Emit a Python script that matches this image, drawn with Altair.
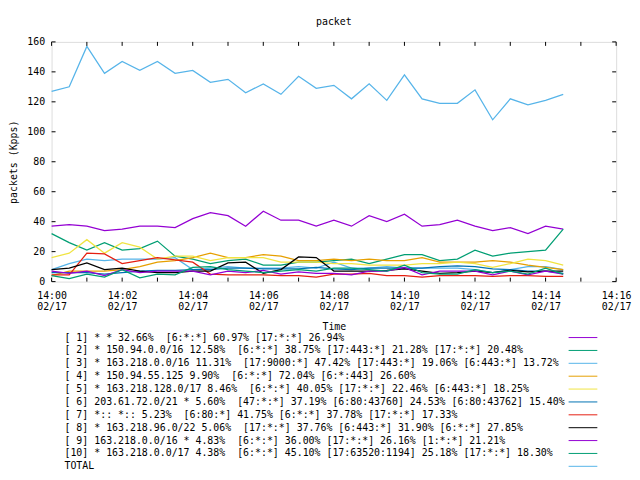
import altair as alt
import pandas as pd

times = ["14:00:00", "14:00:30", "14:01:00", "14:01:30", "14:02:00", "14:02:30",
         "14:03:00", "14:03:30", "14:04:00", "14:04:30", "14:05:00", "14:05:30",
         "14:06:00", "14:06:30", "14:07:00", "14:07:30", "14:08:00", "14:08:30",
         "14:09:00", "14:09:30", "14:10:00", "14:10:30", "14:11:00", "14:11:30",
         "14:12:00", "14:12:30", "14:13:00", "14:13:30", "14:14:00", "14:14:30"]

s1 = [37, 38, 37, 34, 35, 37, 37, 36, 42, 46, 44, 37, 47, 41, 41, 37, 41, 37, 44, 40, 45, 37, 38, 41, 37, 34, 36, 32, 37, 35]
s2 = [32, 26, 21, 26, 21, 22, 27, 17, 15, 12, 14, 15, 11, 11, 13, 13, 14, 15, 12, 15, 18, 18, 14, 15, 21, 17, 19, 20, 21, 35]
s3 = [8, 12, 15, 14, 15, 15, 15, 16, 8, 9, 10, 9, 9, 9, 10, 9, 13, 9, 9, 10, 9, 9, 9, 9, 8, 6, 8, 10, 10, 8]
s4 = [4, 7, 7, 7, 8, 10, 13, 14, 16, 19, 16, 16, 18, 17, 14, 14, 15, 14, 15, 14, 14, 16, 13, 13, 13, 14, 13, 11, 9.5, 8]
s5 = [16, 19, 28, 19, 26, 23, 15, 17, 17, 14, 16, 16, 16, 13, 13, 13, 12, 12, 11, 11, 11, 12, 12, 13, 12, 9.5, 12, 15, 14, 11]
s6 = [6, 6, 6, 5, 6, 7, 7.5, 7.5, 8, 8, 9, 9, 8.5, 8.5, 8.5, 9.5, 8.5, 8, 9, 9, 9, 9, 10, 10.5, 10, 8.5, 8, 7, 7, 5.5]
s7 = [4.5, 4.5, 19, 18.5, 12, 14, 16, 14.5, 13, 5, 4.5, 4.5, 4.5, 4, 4, 3, 5, 5, 5.5, 4, 4, 3, 4, 4, 4, 3.5, 4, 4, 3.5, 3.5]
s8 = [8, 9, 12.5, 8, 9, 7, 6, 6, 7, 7, 12.5, 13, 5.5, 8, 16.5, 16, 7, 7, 7, 7.5, 8.5, 7, 5.5, 6, 7, 6, 7.5, 6.5, 7, 7]
s9 = [7, 5.5, 7, 4, 8, 6, 7, 7, 7, 4.5, 7, 6, 7.5, 5, 6.5, 5.5, 5.5, 4.5, 7, 7, 9.5, 4.5, 7, 7, 7, 4.5, 7, 4.5, 7, 5]
s10 = [4, 2, 5, 3, 8, 2.5, 5, 4.5, 9.5, 10, 8, 7, 6, 7, 8, 7, 9, 9, 8, 7, 11, 6, 5, 5, 8, 6, 7, 5, 9, 5]
total = [127, 130, 157, 139, 147, 141, 147, 139, 141, 133, 135, 126, 132, 125, 137, 129, 131, 122, 132, 121, 138, 122, 119, 119, 128, 108, 122, 118, 121, 125]

series_names = ["s01", "s02", "s03", "s04", "s05", "s06", "s07", "s08", "s09", "s10", "TOTAL"]
series_values = [s1, s2, s3, s4, s5, s6, s7, s8, s9, s10, total]
colors = ["#9400d3", "#009e73", "#56b4e9", "#e69f00", "#f0e442", "#0072b2",
          "#e51e10", "#000000", "#9400d3", "#009e73", "#56b4e9"]

legend_labels = [
    "[ 1] * * 32.66%  [6:*:*] 60.97% [17:*:*] 26.94%",
    "[ 2] * 150.94.0.0/16 12.58%  [6:*:*] 38.75% [17:443:*] 21.28% [17:*:*] 20.48%",
    "[ 3] * 163.218.0.0/16 11.31%  [17:9000:*] 47.42% [17:443:*] 19.06% [6:443:*] 13.72%",
    "[ 4] * 150.94.55.125 9.90%  [6:*:*] 72.04% [6:*:443] 26.60%",
    "[ 5] * 163.218.128.0/17 8.46%  [6:*:*] 40.05% [17:*:*] 22.46% [6:443:*] 18.25%",
    "[ 6] 203.61.72.0/21 * 5.60%  [47:*:*] 37.19% [6:80:43760] 24.53% [6:80:43762] 15.40%",
    "[ 7] *:: *:: 5.23%  [6:80:*] 41.75% [6:*:*] 37.78% [17:*:*] 17.33%",
    "[ 8] * 163.218.96.0/22 5.06%  [17:*:*] 37.76% [6:443:*] 31.90% [6:*:*] 27.85%",
    "[ 9] 163.218.0.0/16 * 4.83%  [6:*:*] 36.00% [17:*:*] 26.16% [1:*:*] 21.21%",
    "[10] * 163.218.0.0/17 4.38%  [6:*:*] 45.10% [17:63520:1194] 25.18% [17:*:*] 18.30%",
    "TOTAL",
]

tick_minutes = list(range(0, 17))
ytick_values = list(range(0, 161, 20))

FONT = "DejaVu Sans Mono"
W, H = 570, 242
TICK = 4

rows = []
for name, vals in zip(series_names, series_values):
    for t, v in zip(times, vals):
        rows.append({"series": name, "time": "2023-02-17T" + t, "value": v})
df = pd.DataFrame(rows)

leg = pd.DataFrame({
    "row": list(range(len(series_names))),
    "series": series_names,
    "label": [s.replace("  ", " \u00a0") for s in legend_labels],
})

xt = pd.DataFrame({"t": ["2023-02-17T14:%02d:00" % m for m in tick_minutes]})
yt = pd.DataFrame({"v": ytick_values})

xscale = alt.Scale(domain=[alt.DateTime(year=2023, month=2, date=17, hours=14, minutes=0),
                           alt.DateTime(year=2023, month=2, date=17, hours=14, minutes=16)])
yscale = alt.Scale(domain=[0, 160], nice=False, zero=False)
colscale = alt.Scale(domain=series_names, range=colors)
tick_values = [alt.DateTime(year=2023, month=2, date=17, hours=14, minutes=m) for m in tick_minutes]

label_expr = ("minutes(datum.value) % 2 == 0 ? "
              "[timeFormat(datum.value, '%H:%M'), timeFormat(datum.value, '%m/%d')] : ''")

xaxis = alt.Axis(values=tick_values, labelExpr=label_expr, ticks=False, tickSize=0,
                 domain=False, grid=False, labelPadding=9, labelLineHeight=11,
                 labelFont=FONT, labelFontSize=10, labelColor="black",
                 labelFlush=False, labelOverlap=False, labelBound=False,
                 titleFont=FONT, titleFontSize=10, titleFontWeight="normal",
                 titleColor="black", titlePadding=10)

lines = alt.Chart(df).mark_line(strokeWidth=1.25).encode(
    x=alt.X("time:T", scale=xscale, title="Time", axis=xaxis),
    y=alt.Y("value:Q", scale=yscale, title="packets (Kpps)",
            axis=alt.Axis(values=ytick_values, ticks=False, tickSize=0, domain=False, grid=False,
                          labelPadding=7, labelFont=FONT, labelFontSize=10, labelColor="black",
                          titleFont=FONT, titleFontSize=10, titleFontWeight="normal",
                          titleColor="black", titlePadding=8)),
    color=alt.Color("series:N", scale=colscale, legend=None),
    order=alt.Order("time:T"),
)

# inward ticks on all four sides, placed through the scales
xtick_bottom = alt.Chart(xt).mark_rule(color="black", strokeWidth=1).encode(
    x=alt.X("t:T", scale=xscale, title="Time", axis=xaxis),
    y=alt.value(H), y2=alt.value(H - TICK),
)
xtick_top = alt.Chart(xt).mark_rule(color="black", strokeWidth=1).encode(
    x=alt.X("t:T", scale=xscale, title="Time", axis=xaxis),
    y=alt.value(0), y2=alt.value(TICK),
)
ytick_left = alt.Chart(yt).mark_rule(color="black", strokeWidth=1).encode(
    y=alt.Y("v:Q", scale=yscale, axis=None),
    x=alt.value(0), x2=alt.value(TICK),
)
ytick_right = alt.Chart(yt).mark_rule(color="black", strokeWidth=1).encode(
    y=alt.Y("v:Q", scale=yscale, axis=None),
    x=alt.value(W), x2=alt.value(W - TICK),
)

legscale = alt.Scale(domain=[0, 10], range=[298.5, 428.5])
leg_text = alt.Chart(leg).mark_text(align="left", baseline="middle", font=FONT,
                                    fontSize=10, color="black").encode(
    y=alt.Y("row:Q", scale=legscale, axis=None),
    x=alt.value(13),
    text="label:N",
)
leg_rule = alt.Chart(leg).mark_rule(strokeWidth=1).encode(
    y=alt.Y("row:Q", scale=legscale, axis=None),
    x=alt.value(522),
    x2=alt.value(551),
    color=alt.Color("series:N", scale=colscale, legend=None),
)

chart = alt.layer(lines, xtick_bottom, xtick_top, ytick_left, ytick_right,
                  leg_text, leg_rule).resolve_scale(
    y="independent"
).properties(
    width=W, height=H,
    title=alt.TitleParams("packet", font=FONT, fontSize=10, fontWeight="normal",
                          color="black", offset=10, anchor="middle"),
    autosize=alt.AutoSizeParams(type="none"),
    padding={"left": 44, "top": 32, "right": 16, "bottom": 190},
).configure_view(
    stroke="black", strokeWidth=1
).configure(background="white")

chart.save("out.html", embed_options={"renderer": "svg", "actions": False})
